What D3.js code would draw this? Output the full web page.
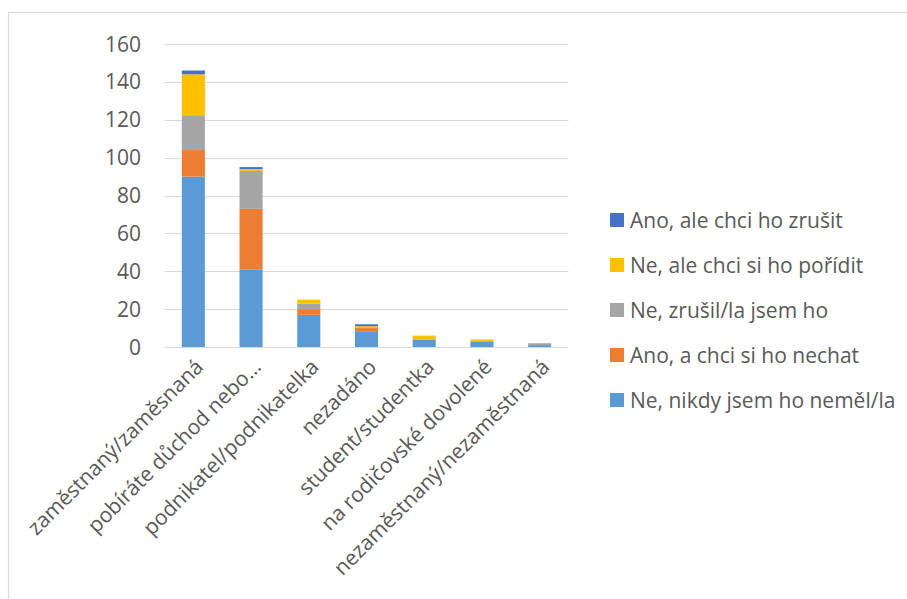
<!DOCTYPE html>
<html>
<head>
<meta charset="utf-8">
<script src="https://cdn.jsdelivr.net/npm/d3@7"></script>
<style>
  body { margin: 0; background: #fff; }
  svg { display: block; font-family: "Open Sans", sans-serif; }
</style>
</head>
<body>
<script>
// categories (x axis) and the five answer series, bottom to top
var categories = ["zaměstnaný/zaměsnaná", "pobíráte důchod nebo…", "podnikatel/podnikatelka",
  "nezadáno", "student/studentka", "na rodičovské dovolené", "nezaměstnaný/nezaměstnaná"];
var seriesNames = ["Ne, nikdy jsem ho neměl/la", "Ano, a chci si ho nechat", "Ne, zrušil/la jsem ho",
  "Ne, ale chci si ho pořídit", "Ano, ale chci ho zrušit"];
var neNikdy = [90, 41, 17, 8, 4, 3, 1];
var anoNechat = [14, 32, 3, 2, 0, 0, 0];
var neZrusil = [18, 20, 3, 0, 0, 0, 1];
var nePoridit = [22, 1, 2, 1, 2, 1, 0];
var anoZrusit = [2, 1, 0, 1, 0, 0, 0];
var yTicks = [0, 20, 40, 60, 80, 100, 120, 140, 160];
var colors = ["#5B9BD5", "#ED7D31", "#A5A5A5", "#FFC000", "#4472C4"];

var W = 907, H = 599;
var plot = {left: 164.5, right: 568.5, top: 44, bottom: 347};
var fontSize = 21;

var svg = d3.select("body").append("svg")
  .attr("width", W)
  .attr("height", H);

// chart area border (only left and top visible in the crop)
svg.append("rect")
  .attr("x", 8.5).attr("y", 12.5)
  .attr("width", 1000).attr("height", 1000)
  .attr("fill", "none")
  .attr("stroke", "#d9d9d9")
  .attr("stroke-width", 1.2);

var allSeries = [neNikdy, anoNechat, neZrusil, nePoridit, anoZrusit];
var table = categories.map(function (c, i) {
  var row = {cat: c};
  seriesNames.forEach(function (s, j) { row[s] = allSeries[j][i]; });
  return row;
});
var stacked = d3.stack().keys(seriesNames)(table);

var x = d3.scaleBand()
  .domain(categories)
  .range([plot.left, plot.right])
  .paddingInner(0.6)
  .paddingOuter(0.3);

var y = d3.scaleLinear()
  .domain([0, 160])
  .range([plot.bottom, plot.top]);

// gridlines
svg.append("g")
  .selectAll("line")
  .data(yTicks)
  .enter()
  .append("line")
  .attr("x1", plot.left)
  .attr("x2", plot.right)
  .attr("y1", function (d) { return Math.round(y(d)) + 0.5; })
  .attr("y2", function (d) { return Math.round(y(d)) + 0.5; })
  .attr("stroke", "#d9d9d9")
  .attr("stroke-width", 1.2);

// y labels
svg.append("g")
  .selectAll("text")
  .data(yTicks)
  .enter()
  .append("text")
  .attr("x", 141)
  .attr("y", function (d) { return y(d); })
  .attr("dy", "0.36em")
  .attr("text-anchor", "end")
  .attr("font-size", fontSize)
  .attr("fill", "#595959")
  .text(function (d) { return d; });

// bars
svg.append("g")
  .selectAll("g")
  .data(stacked)
  .enter()
  .append("g")
  .attr("fill", function (d, i) { return colors[i]; })
  .selectAll("rect")
  .data(function (d) { return d; })
  .enter()
  .append("rect")
  .attr("x", function (d) { return x(d.data.cat); })
  .attr("y", function (d) { return y(d[1]); })
  .attr("height", function (d) { return y(d[0]) - y(d[1]); })
  .attr("width", x.bandwidth());

// x labels, rotated
svg.append("g")
  .selectAll("text")
  .data(categories)
  .enter()
  .append("text")
  .attr("transform", function (d) {
    return "translate(" + (x(d) + x.bandwidth() / 2 + 6) + "," + (plot.bottom + 16) + ") rotate(-45)";
  })
  .attr("text-anchor", "end")
  .attr("dy", "0.35em")
  .attr("font-size", fontSize)
  .attr("fill", "#595959")
  .text(function (d) { return d; });

// legend, top entry is the top series
var legend = svg.append("g")
  .selectAll("g")
  .data(seriesNames.slice().reverse())
  .enter()
  .append("g")
  .attr("transform", function (d, i) { return "translate(610," + (220 + i * 45) + ")"; });

legend.append("rect")
  .attr("x", 0).attr("y", -7)
  .attr("width", 14).attr("height", 14)
  .attr("fill", function (d) { return colors[seriesNames.indexOf(d)]; });

legend.append("text")
  .attr("x", 20)
  .attr("dy", "0.36em")
  .attr("font-size", fontSize)
  .attr("fill", "#595959")
  .text(function (d) { return d; });
</script>
</body>
</html>
